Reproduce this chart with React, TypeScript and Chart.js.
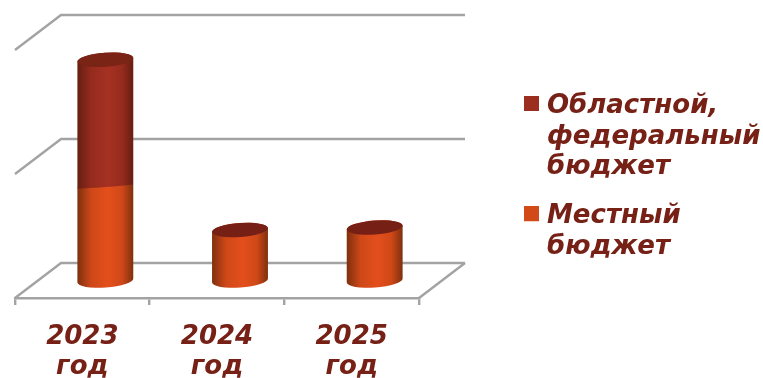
import React, { useEffect, useRef } from "react";
import { Chart, registerables } from "chart.js";

Chart.register(...registerables);

const categories = [["2023", "год"], ["2024", "год"], ["2025", "год"]];
const localBudget = [0.758, 0.407, 0.427];
const regionalBudget = [1.022, 0, 0];
const localLabel = ["Местный", "бюджет"];
const regionalLabel = ["Областной,", "федеральный", "бюджет"];

const TEXT = "#762016";
const GRID = "#a3a3a3";
const FONT = { family: "'DejaVu Sans', Verdana, sans-serif", size: 26, weight: "bold" as const, style: "italic" as const, lineHeight: 1.17 };

const DEPTH_X = 46;
const DEPTH_Y = -35;
const RY = 7;
const TILT = (-4.2 * Math.PI) / 180;
const LEGEND_BOTTOM = 308;

const shades = [
  { edge: "#7e2f0e", near: "#cf4818", mid: "#e34f1c", cap: "#761f14" },
  { edge: "#661e12", near: "#952b1e", mid: "#a63122", cap: "#7a2415" },
];

function swatch(color: string) {
  const c = document.createElement("canvas");
  c.width = 15;
  c.height = 21;
  const g = c.getContext("2d")!;
  g.fillStyle = color;
  g.fillRect(0, 0, 15, 15);
  return c;
}

const cylinders = {
  id: "cylinders",
  afterLayout(chart: any) {
    chart.legend.bottom = LEGEND_BOTTOM;
  },
  beforeDatasetsDraw(chart: any) {
    const { ctx, chartArea, scales } = chart;
    const { left, right } = chartArea;
    const y0 = scales.y.getPixelForValue(0);

    ctx.save();
    ctx.strokeStyle = GRID;
    ctx.lineWidth = 2.4;
    ctx.lineJoin = "round";
    for (const t of scales.y.ticks) {
      const y = scales.y.getPixelForValue(t.value);
      ctx.beginPath();
      ctx.moveTo(left, y);
      ctx.lineTo(left + DEPTH_X, y + DEPTH_Y);
      ctx.lineTo(right + DEPTH_X, y + DEPTH_Y);
      ctx.stroke();
    }
    ctx.beginPath();
    ctx.moveTo(right + DEPTH_X, y0 + DEPTH_Y);
    ctx.lineTo(right, y0);
    ctx.stroke();

    const metas = chart.data.datasets.map((_: any, i: number) => chart.getDatasetMeta(i));
    metas.forEach((meta: any, d: number) => {
      meta.data.forEach((el: any) => {
        const p = el.getProps(["x", "y", "base", "width"]);
        const cx = p.x + DEPTH_X / 2;
        const rx = p.width / 2;
        const yTop = p.y + DEPTH_Y / 2;
        const yBase = p.base + DEPTH_Y / 2;
        const s = shades[d];
        const g = ctx.createLinearGradient(cx - rx, 0, cx + rx, 0);
        g.addColorStop(0, s.edge);
        g.addColorStop(0.25, s.near);
        g.addColorStop(0.55, s.mid);
        g.addColorStop(0.8, s.near);
        g.addColorStop(1, s.edge);
        if (Math.abs(yBase - yTop) > 0.5) {
          ctx.beginPath();
          ctx.ellipse(cx, yBase, rx, d === 0 ? RY : 0.5, TILT, 0, Math.PI);
          ctx.ellipse(cx, yTop, rx, RY, TILT, Math.PI, Math.PI * 2);
          ctx.closePath();
          ctx.fillStyle = g;
          ctx.fill();
        }
        if (d === metas.length - 1) {
          ctx.beginPath();
          ctx.ellipse(cx, yTop, rx, RY, TILT, 0, Math.PI * 2);
          ctx.fillStyle = shades[yBase - yTop > 0.5 ? 1 : 0].cap;
          ctx.fill();
        }
      });
    });
    ctx.restore();
    return false;
  },
};

export default function App() {
  const ref = useRef<HTMLCanvasElement>(null);
  useEffect(() => {
    const chart = new Chart(ref.current!, {
      type: "bar",
      data: {
        labels: categories,
        datasets: [
          { label: localLabel.join(" "), data: localBudget, backgroundColor: "#d24a17", barPercentage: 1, categoryPercentage: 0.416 },
          { label: regionalLabel.join(" "), data: regionalBudget, backgroundColor: "#9c2e20", barPercentage: 1, categoryPercentage: 0.416 },
        ],
      },
      options: {
        responsive: false,
        animation: false,
        layout: { padding: { left: 15, top: 50, right: 0, bottom: 0 } },
        scales: {
          x: {
            stacked: true,
            afterFit: (s: any) => { s.height = 80; },
            grid: { drawOnChartArea: false, drawTicks: true, tickLength: 7, color: GRID, lineWidth: 2.4 },
            border: { display: true, color: GRID, width: 2.4 },
            ticks: { color: TEXT, font: FONT, padding: 17, autoSkip: false, maxRotation: 0 },
          },
          y: {
            stacked: true,
            position: "right",
            min: 0,
            max: 2,
            afterFit: (s: any) => { s.width = 91; },
            grid: { display: false },
            border: { display: false },
            ticks: { display: false, stepSize: 1 },
          },
        },
        plugins: {
          tooltip: { enabled: false },
          legend: {
            position: "right",
            maxWidth: 253,
            labels: {
              color: TEXT,
              font: FONT,
              usePointStyle: true,
              pointStyleWidth: 5,
              padding: 19,
              generateLabels: () => [
                { text: regionalLabel, pointStyle: swatch("#9c2e20"), fontColor: TEXT, lineWidth: 0, strokeStyle: "transparent", fillStyle: "#9c2e20", datasetIndex: 1 },
                { text: localLabel, pointStyle: swatch("#d24a17"), fontColor: TEXT, lineWidth: 0, strokeStyle: "transparent", fillStyle: "#d24a17", datasetIndex: 0 },
              ] as any,
            },
          },
        },
      } as any,
      plugins: [cylinders],
    });
    return () => chart.destroy();
  }, []);
  return <canvas ref={ref} width={763} height={378} style={{ position: "absolute", left: 0, top: 0, display: "block" }} />;
}
